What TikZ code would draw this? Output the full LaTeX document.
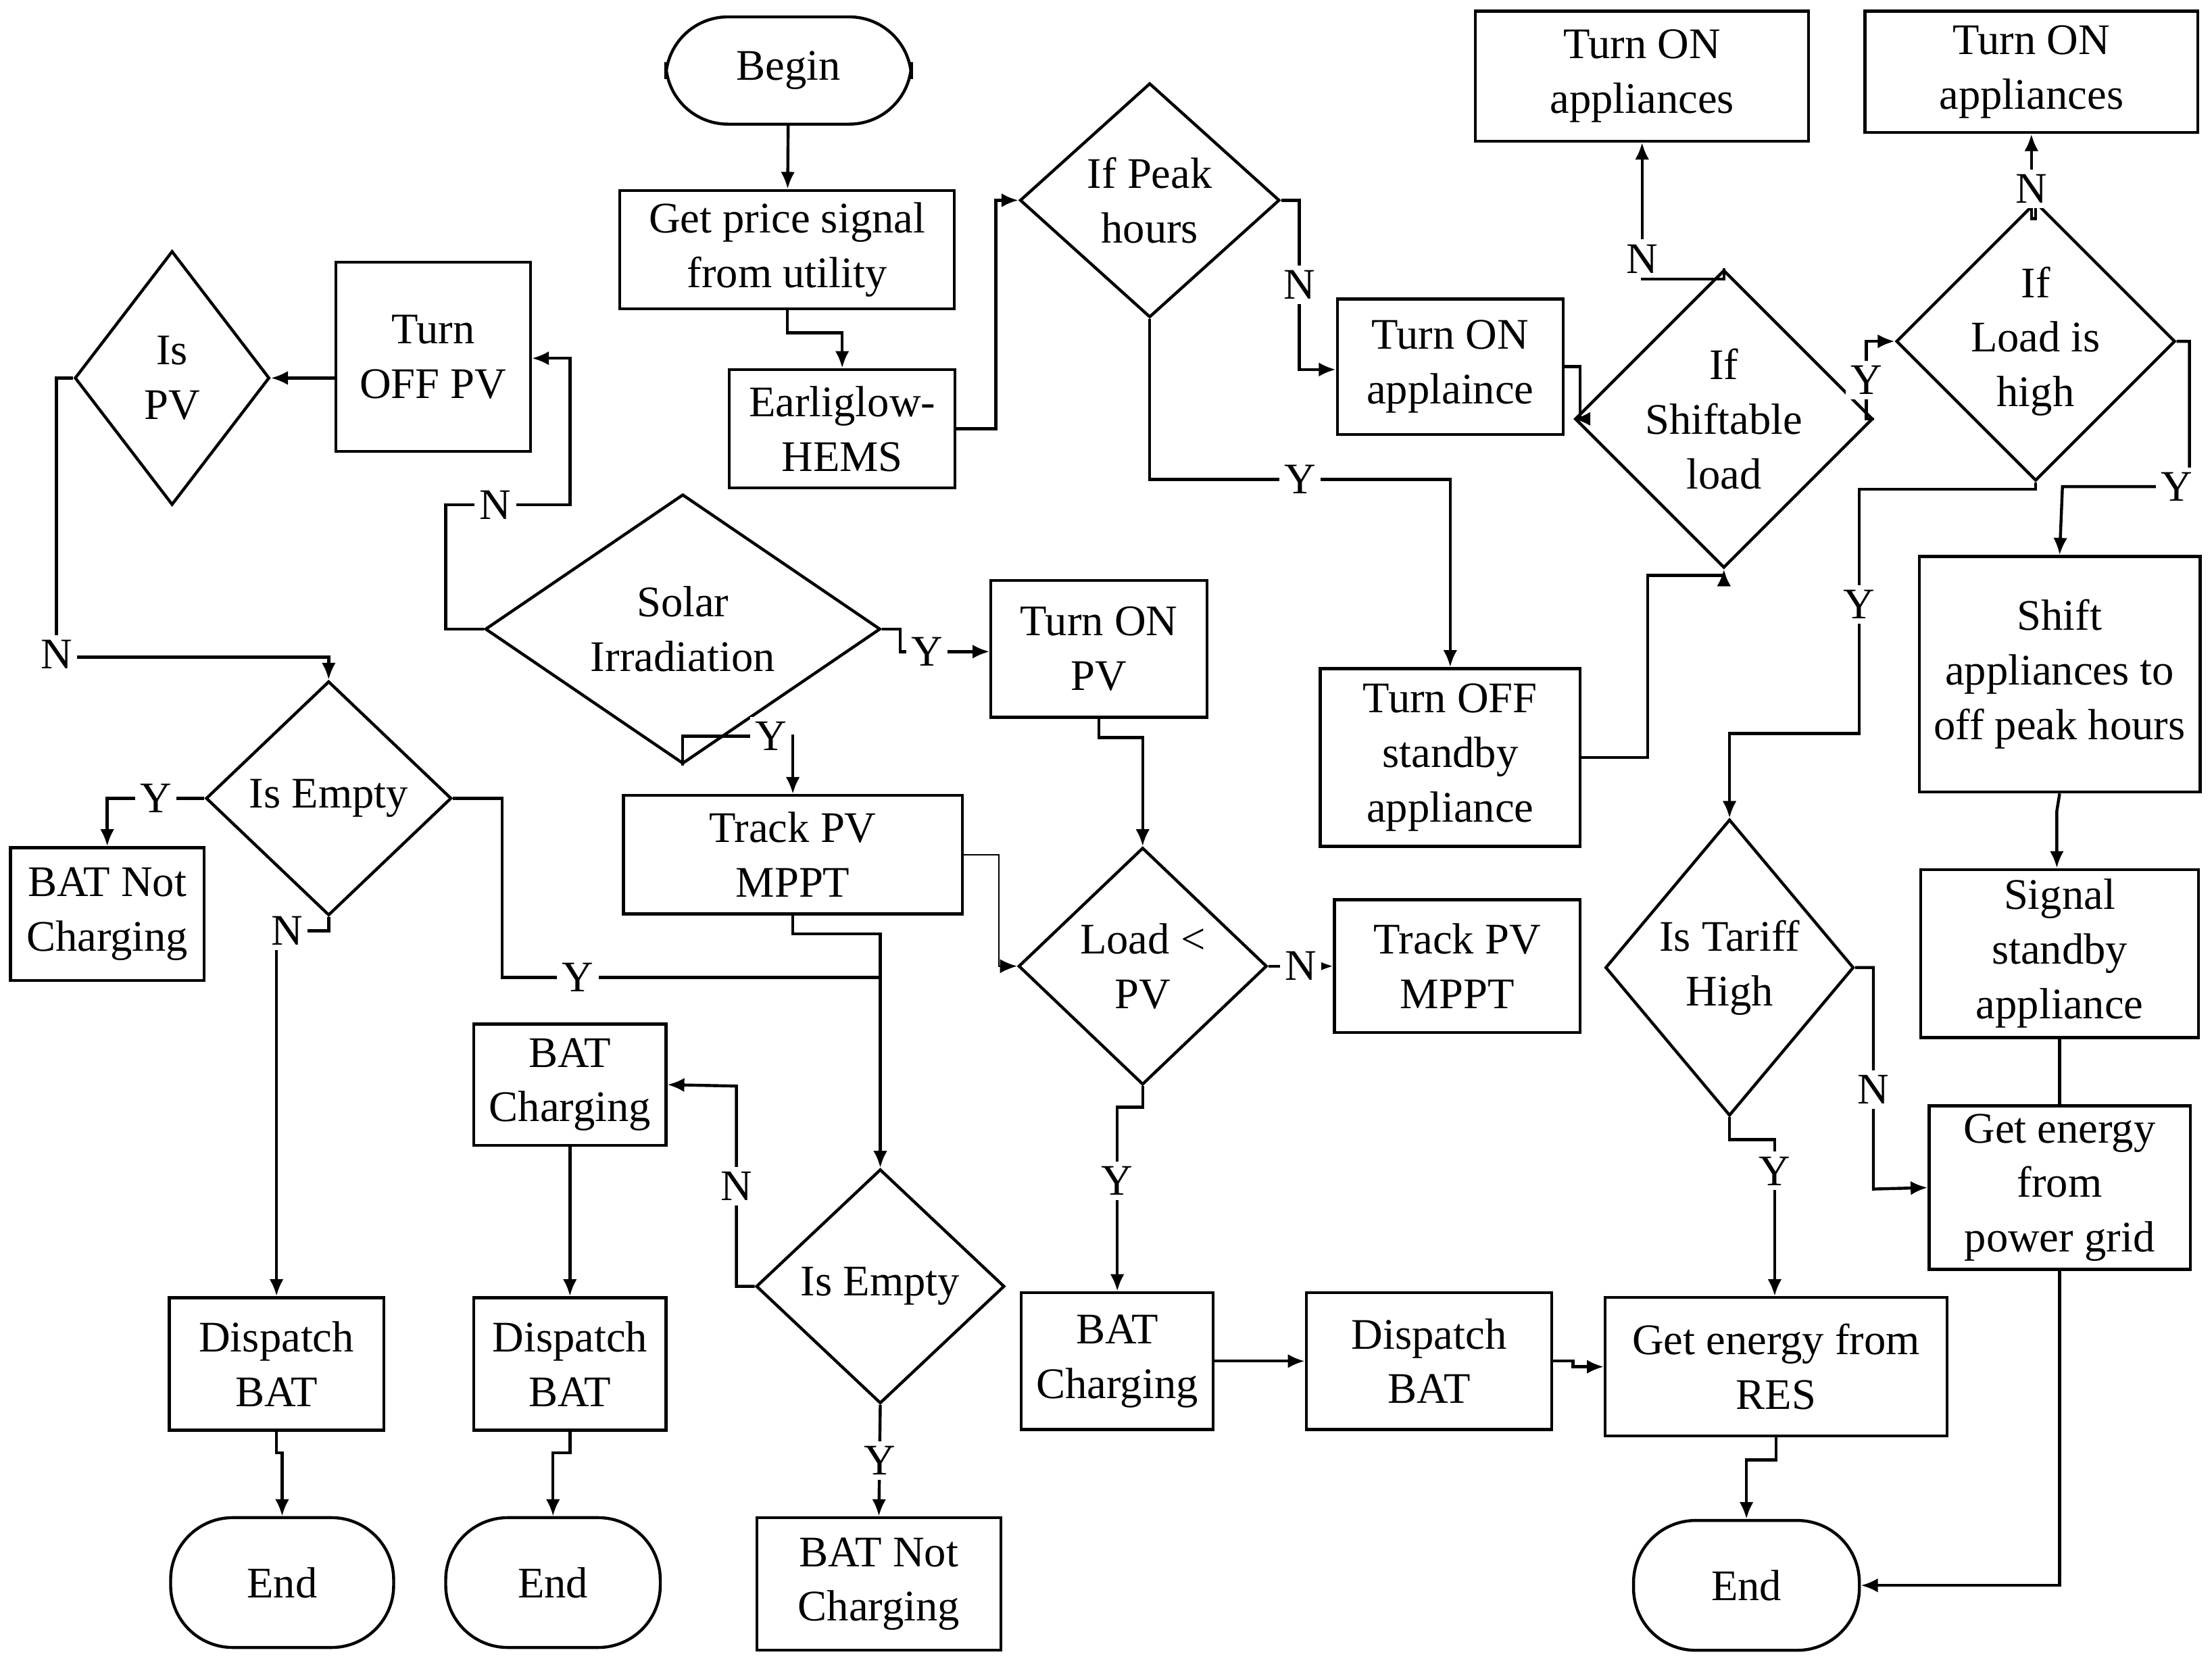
\documentclass[tikz,border=0pt]{standalone}
\usepackage{fontspec}
\setmainfont{Liberation Serif}
\usetikzlibrary{shapes.geometric, arrows.meta}
\tikzstyle{box} = [rectangle, draw=black, line width=0.6pt, align=center, inner sep=1pt]
\tikzstyle{decision} = [diamond, draw=black, line width=0.6pt, align=center, inner sep=0pt]
\tikzstyle{terminal} = [rectangle, rounded corners=0.44cm, draw=black, line width=0.6pt, align=center]
\tikzstyle{arrow} = [line width=0.6pt, -{Latex[length=1.2mm,width=1mm]}]
\tikzstyle{line} = [line width=0.6pt]
\tikzstyle{lab} = [fill=white, inner sep=1pt]

\begin{document}
\begin{tikzpicture}[x=0.01cm, y=-0.01cm, font=\fontsize{8.8}{11}\selectfont]
			\useasboundingbox (0,0) rectangle (1568,1180);
			% top row
			\node (begin) [terminal, minimum width=1.74cm, minimum height=0.76cm] at (559,50) {Begin};
			\node (price) [box, minimum width=2.37cm, minimum height=0.84cm] at (558,177) {Get price signal\\from utility};
			\node (hems) [box, minimum width=1.6cm, minimum height=0.84cm] at (597,304) {Earliglow-\\HEMS};
			\node (peak) [decision, minimum width=1.84cm, minimum height=1.66cm] at (815,142) {If Peak\\hours};
			\node (offpv) [box, minimum width=1.38cm, minimum height=1.34cm] at (307,253) {Turn\\OFF PV};
			\node (ispv) [decision, minimum width=1.38cm, minimum height=1.8cm] at (122,268) {Is\\PV};
			\node (solar) [decision, minimum width=2.8cm, minimum height=1.26cm] at (484,446) {Solar\\Irradiation};
			\node (onpv) [box, minimum width=1.53cm, minimum height=0.97cm] at (779,460) {Turn ON\\PV};
			\node (track1) [box, minimum width=2.4cm, minimum height=0.84cm] at (562,606) {Track PV\\MPPT};
			\node (empty1) [decision, minimum width=1.74cm, minimum height=1.66cm] at (233,566) {Is Empty};
			\node (notch1) [box, minimum width=1.37cm, minimum height=0.94cm] at (76,648) {BAT Not\\Charging};
			\node (loadpv) [decision, minimum width=1.76cm, minimum height=1.68cm] at (810,685) {Load <\\PV};
			\node (track2) [box, minimum width=1.74cm, minimum height=0.94cm] at (1033,685) {Track PV\\MPPT};
			\node (onapp) [box, minimum width=1.6cm, minimum height=0.96cm] at (1028,260) {Turn ON\\applaince};
			\node (offsb) [box, minimum width=1.84cm, minimum height=1.26cm] at (1028,537) {Turn OFF\\standby\\appliance};
			\node (shiftable) [decision, minimum width=1.74cm, minimum height=1.66cm] at (1222,297) {If\\Shiftable\\load};
			\node (onapps1) [box, minimum width=2.36cm, minimum height=0.92cm] at (1164,54) {Turn ON\\appliances};
			\node (high) [decision, minimum width=1.96cm, minimum height=1.36cm] at (1443,242) {If\\Load is\\high};
			\node (onapps2) [box, minimum width=2.36cm, minimum height=0.86cm] at (1440,51) {Turn ON\\appliances};
			\node (shift) [box, minimum width=1.99cm, minimum height=1.67cm] at (1460,478) {Shift\\appliances to\\off peak hours};
			\node (signal) [box, minimum width=1.97cm, minimum height=1.19cm] at (1460,676) {Signal\\standby\\appliance};
			\node (grid) [box, minimum width=1.85cm, minimum height=1.16cm] at (1460,842) {Get energy\\from\\power grid};
			\node (tariff) [decision, minimum width=1.76cm, minimum height=2.1cm] at (1226,686) {Is Tariff\\High};
			\node (res) [box, minimum width=2.42cm, minimum height=0.98cm] at (1259,969) {Get energy from\\RES};
			\node (end3) [terminal, minimum width=1.6cm, minimum height=0.92cm] at (1238,1124) {End};
			\node (charge3) [box, minimum width=1.36cm, minimum height=0.97cm] at (792,965) {BAT\\Charging};
			\node (disp3) [box, minimum width=1.74cm, minimum height=0.97cm] at (1013,965) {Dispatch\\BAT};
			\node (empty2) [decision, minimum width=1.76cm, minimum height=1.66cm] at (624,912) {Is Empty};
			\node (notch2) [box, minimum width=1.73cm, minimum height=0.94cm] at (623,1123) {BAT Not\\Charging};
			\node (charge2) [box, minimum width=1.36cm, minimum height=0.86cm] at (404,769) {BAT\\Charging};
			\node (disp2) [box, minimum width=1.36cm, minimum height=0.94cm] at (404,967) {Dispatch\\BAT};
			\node (end2) [terminal, minimum width=1.52cm, minimum height=0.92cm] at (392,1122) {End};
			\node (disp1) [box, minimum width=1.52cm, minimum height=0.94cm] at (196,967) {Dispatch\\BAT};
			\node (end1) [terminal, minimum width=1.58cm, minimum height=0.92cm] at (200,1122) {End};
			% connectors
			\draw [arrow] (begin) -- (price);
			\draw [arrow] (price.south) -- (558,236) -| (hems.north);
			\draw [arrow] (hems.east) -- (706,304) |- (peak.west);
			\draw [arrow] (peak.east) -- (921,142) -- node[lab] {N} (921,262) -- (onapp.west |- 921,262);
			\draw [arrow] (peak.south) -- (815,340) -- node[lab, pos=0.5] {Y} (1028,340) -- (offsb.north);
			\draw [arrow] (onapp.east) -- (1120,260) |- (shiftable.west);
			\draw [arrow] (offsb.east) -- (1168,537) |- (1222,408) -- (shiftable.south);
			\draw [arrow] (shiftable.north) -- (1222,198) -- (1164,198) -- node[lab, pos=0.15] {N} (onapps1.south);
			\draw [arrow] (shiftable.east) -- (1323,297) -- node[lab] {Y} (1323,242) -- (high.west);
			\draw [arrow] (high.north) -- (1443,155) -- (1440,155) -- node[lab, pos=0.35] {N} (onapps2.south);
			\draw [arrow] (high.east) -- (1552,242) |- node[lab, pos=0.55] {Y} (1462,345) -- (shift.north);
			\draw [arrow] (high.south) -- (1443,347) -- (1318,347) -- node[lab, pos=0.47] {Y} (1318,520) -| (tariff.north);
			\draw [arrow] (shift.south) -- (1458,575) -- (signal.north -| 1458,0);
			\draw [line] (signal.south) -- (grid.north);
			\draw [arrow] (tariff.east) -- (1328,686) -- node[lab, pos=0.55] {N} (1328,843) -- (grid.west);
			\draw [arrow] (tariff.south) -- (1226,808) -| node[lab, pos=0.6] {Y} (res.north -| 1258,0);
			\draw [arrow] (grid.south) |- (end3.east);
			\draw [arrow] (res.south) -- (1259,1035) -| (end3.north);
			\draw [arrow] (disp3.east) -- (1115,965) -- (1115,969) -- (res.west);
			\draw [arrow] (charge3.east) -- (disp3.west);
			\draw [arrow] (loadpv.south) -- (810,785) -| node[lab, pos=0.7] {Y} (charge3.north);
			\draw [arrow] (loadpv.east) -- node[lab] {N} (track2.west);
			\draw [arrow] (onpv.south) -- (779,523) -| (loadpv.north);
			\draw [arrow, line width=0.3pt] (track1.east) -- (708,606) |- (loadpv.west);
			\draw [arrow] (solar.east) -- (638,446) |- node[lab, pos=0.65] {Y} (onpv.west |- 0,462);
			\draw [arrow] (solar.south) -- (484,522) -| node[lab, pos=0.4] {Y} (track1.north);
			\draw [arrow] (solar.west) -- (316,446) |- node[lab, pos=0.7] {N} (404,358) |- (offpv.east |- 0,254);
			\draw [arrow] (offpv.west |- ispv.east) -- (ispv.east);
			\draw [arrow] (ispv.west) -- (40,268) -- node[lab, pos=0.99] {N} (40,466) -| (empty1.north);
			\draw [arrow] (empty1.west) -| node[lab, pos=0.25] {Y} (notch1.north);
			\draw [arrow] (empty1.south) -- (233,660) -| node[lab, pos=0.4] {N} (disp1.north -| 196,0);
			\draw [arrow] (empty1.east) -- (356,566) |- node[lab, pos=0.6] {Y} (624,693) -- (empty2.north);
			\draw [line] (track1.south) -- (562,662) -- (624,662) -- (624,693);
			\draw [arrow] (empty2.west) -- (522,912) -- node[lab, pos=0.5] {N} (522,770) -- (charge2.east);
			\draw [arrow] (empty2.south) -- node[lab] {Y} (notch2.north);
			\draw [arrow] (charge2.south) -- (disp2.north);
			\draw [arrow] (disp2.south) -- (404,1030) -| (end2.north);
			\draw [arrow] (disp1.south) -- (196,1030) -| (end1.north);
		\end{tikzpicture}
\end{document}
